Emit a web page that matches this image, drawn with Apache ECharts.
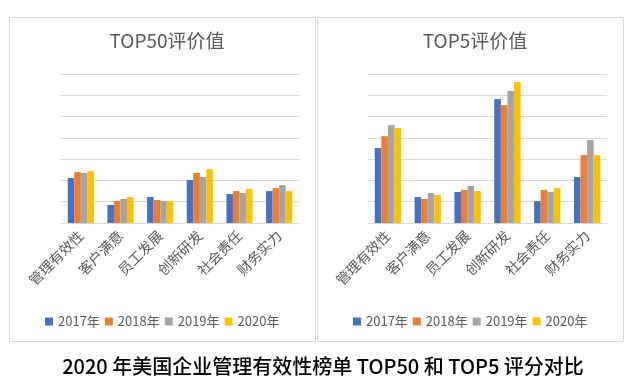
<!DOCTYPE html>
<html>
<head>
<meta charset="utf-8">
<script src="https://cdn.jsdelivr.net/npm/echarts@6/dist/echarts.min.js"></script>
<style>
html,body{margin:0;padding:0;background:#fff;}
#c{width:637px;height:381px;}
</style>
</head>
<body>
<div id="c"></div>
<script>
const categories = ['管理有效性','客户满意','员工发展','创新研发','社会责任','财务实力'];
const years = ['2017年','2018年','2019年','2020年'];
const colors = ['#4472C4','#ED7D31','#A5A5A5','#FFC000'];
const top50_2017 = [2.11,0.85,1.22,2.02,1.36,1.50];
const top50_2018 = [2.39,1.03,1.08,2.35,1.50,1.64];
const top50_2019 = [2.35,1.13,1.03,2.16,1.41,1.78];
const top50_2020 = [2.44,1.22,1.03,2.53,1.60,1.50];
const top5_2017 = [3.52,1.22,1.46,5.82,1.03,2.16];
const top5_2018 = [4.08,1.13,1.55,5.54,1.55,3.19];
const top5_2019 = [4.60,1.41,1.74,6.20,1.46,3.90];
const top5_2020 = [4.46,1.31,1.50,6.62,1.64,3.19];
const titles = ['TOP50评价值','TOP5评价值'];
const caption = '2020 年美国企业管理有效性榜单 TOP50 和 TOP5 评分对比';

const FONT = '"Noto Sans CJK SC", "Noto Sans", sans-serif';
const chart = echarts.init(document.getElementById('c'));
const top50 = [top50_2017, top50_2018, top50_2019, top50_2020];
const top5 = [top5_2017, top5_2018, top5_2019, top5_2020];

// measure legend width to center it within each panel
const cv = document.createElement('canvas').getContext('2d');
cv.font = '13px ' + FONT;
const itemW = 8, itemGap = 5, iconTextGap = 5;
let legendW = 0;
years.forEach((y, i) => { legendW += itemW + iconTextGap + cv.measureText(y).width + (i ? itemGap : 0); });

function xAxis(gi){
  return {type:'category', gridIndex:gi, data:categories,
    axisLine:{lineStyle:{color:'#d9d9d9'}}, axisTick:{show:false},
    axisLabel:{rotate:45, color:'#595959', fontSize:14, fontFamily:FONT, margin:10, interval:0}};
}
function yAxis(gi){
  return {type:'value', gridIndex:gi, min:0, max:7, interval:1,
    axisLabel:{show:false}, axisLine:{show:false}, axisTick:{show:false},
    splitLine:{lineStyle:{color:'#d9d9d9'}}};
}
const series = [];
[top50, top5].forEach((set, gi) => {
  set.forEach((arr, i) => {
    series.push({type:'bar', name:years[i], xAxisIndex:gi, yAxisIndex:gi, data:arr,
      itemStyle:{color:colors[i]}, barGap:'0%', barCategoryGap:'34%', animation:false});
  });
});

function legend(cx){
  return {data:years, left:Math.round(cx - legendW/2 - 5), top:310, itemWidth:itemW, itemHeight:8, itemGap:itemGap,
    icon:'rect', padding:5, textStyle:{color:'#595959', fontSize:13, fontFamily:FONT}};
}

chart.setOption({
  animation:false,
  color:colors,
  title:[
    {text:titles[0], left:162, top:26, textAlign:'center', textStyle:{color:'#595959', fontSize:19, fontWeight:'normal', fontFamily:FONT}},
    {text:titles[1], left:470, top:26, textAlign:'center', textStyle:{color:'#595959', fontSize:19, fontWeight:'normal', fontFamily:FONT}},
    {text:caption, left:318, top:351, textAlign:'center', textStyle:{color:'#000', fontSize:20, fontWeight:500, fontFamily:FONT}}
  ],
  legend:[legend(162), legend(470)],
  grid:[
    {left:61, right:338, top:74, bottom:158},
    {left:368, right:30, top:74, bottom:158}
  ],
  xAxis:[xAxis(0), xAxis(1)],
  yAxis:[yAxis(0), yAxis(1)],
  series:series,
  graphic:[
    {type:'rect', shape:{x:9.5, y:17.5, width:306, height:324}, style:{fill:'none', stroke:'#d9d9d9', lineWidth:1}, silent:true},
    {type:'rect', shape:{x:317.5, y:17.5, width:306, height:324}, style:{fill:'none', stroke:'#d9d9d9', lineWidth:1}, silent:true}
  ]
});
</script>
</body>
</html>
